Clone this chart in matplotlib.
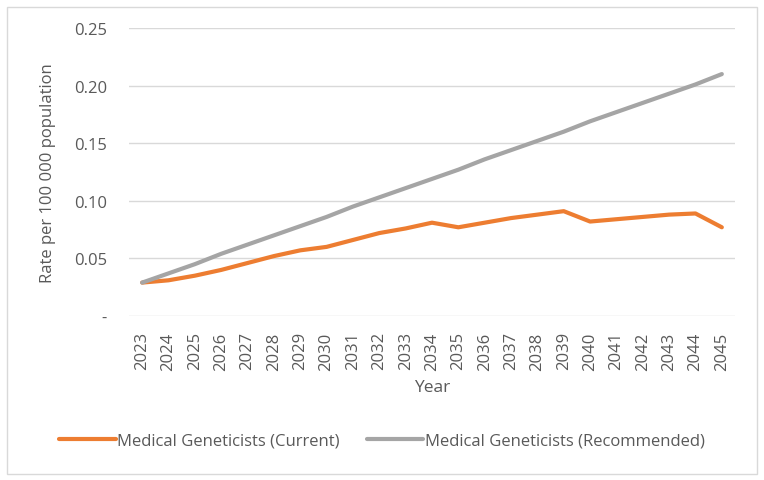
import matplotlib
matplotlib.use('Agg')
import matplotlib.pyplot as plt
from matplotlib.patches import Rectangle

years = [str(y) for y in range(2023, 2046)]
current = [0.029, 0.031, 0.035, 0.040, 0.046, 0.052, 0.057, 0.060, 0.066, 0.072,
           0.076, 0.081, 0.077, 0.081, 0.085, 0.088, 0.091, 0.082, 0.084, 0.086,
           0.088, 0.089, 0.077]
recommended = [0.029, 0.037, 0.045, 0.054, 0.062, 0.070, 0.078, 0.086, 0.095, 0.103,
               0.111, 0.119, 0.127, 0.136, 0.144, 0.152, 0.160, 0.169, 0.177, 0.185,
               0.193, 0.201, 0.210]
y_ticks = [0, 0.05, 0.10, 0.15, 0.20, 0.25]
y_labels = ['-', '0.05', '0.10', '0.15', '0.20', '0.25']

TEXT = '#595959'
plt.rcParams['font.family'] = ['Open Sans', 'DejaVu Sans']

fig = plt.figure(figsize=(7.64, 4.81), dpi=100)
W, H = 764, 481
ax = fig.add_axes([129 / W, 1 - 317 / H, (735 - 129) / W, (317 - 29) / H])

x = list(range(len(years)))
ax.plot(x, current, color='#ED7D31', lw=3, solid_capstyle='round',
        label='Medical Geneticists (Current)')
ax.plot(x, recommended, color='#A5A5A5', lw=3, solid_capstyle='round',
        label='Medical Geneticists (Recommended)')

ax.set_xlim(-0.5, len(years) - 0.5)
ax.set_ylim(0, 0.25)
ax.set_yticks(y_ticks)
ax.set_yticklabels(y_labels)
ax.set_xticks(x)
ax.set_xticklabels(years, rotation=90)
ax.grid(axis='y', color='#D9D9D9', lw=1)
ax.set_axisbelow(True)
for s in ax.spines.values():
    s.set_visible(False)
ax.tick_params(length=0, colors=TEXT, labelsize=12)
ax.tick_params(axis='y', pad=16)
ax.tick_params(axis='x', pad=11)

ax.set_ylabel('Rate per 100 000 population', color=TEXT, fontsize=12, labelpad=13)
ax.set_xlabel('Year', color=TEXT, fontsize=12.5, labelpad=7)

fig.legend(loc='center', bbox_to_anchor=(0.5, 1 - 442 / H), ncol=2, frameon=False,
           fontsize=12, labelcolor=TEXT, handlelength=3.4, handletextpad=0.1,
           columnspacing=1.6)

fig.patches.append(Rectangle((7 / W, 6 / H), 750 / W, 467 / H, transform=fig.transFigure,
                             fill=False, edgecolor='#D9D9D9', lw=1))

fig.savefig('out.png', dpi=100)
